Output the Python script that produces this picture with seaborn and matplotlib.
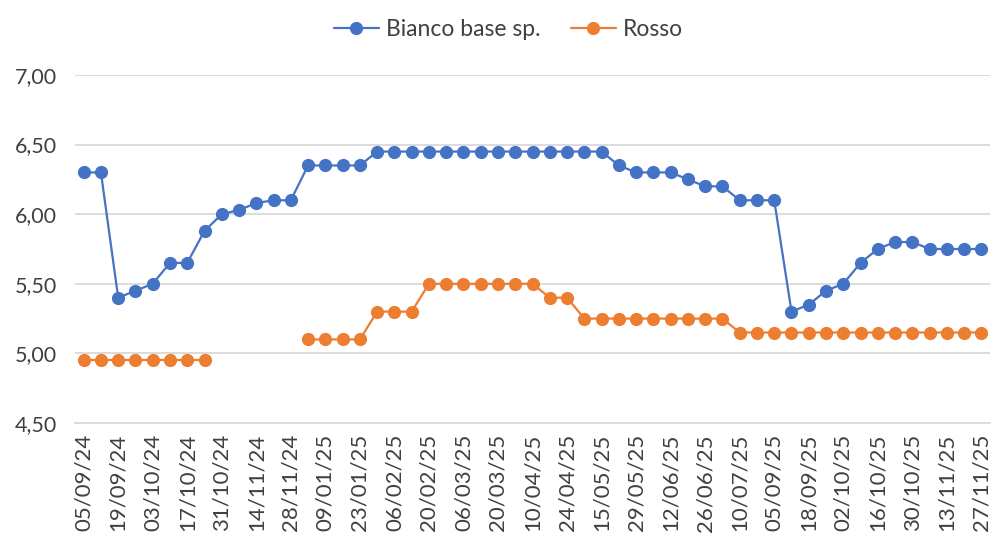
import numpy as np
import pandas as pd
import matplotlib
matplotlib.use("Agg")
import matplotlib.pyplot as plt
import seaborn as sns

dates = ["05/09/24", "12/09/24", "19/09/24", "26/09/24", "03/10/24", "10/10/24",
         "17/10/24", "24/10/24", "31/10/24", "07/11/24", "14/11/24", "21/11/24",
         "28/11/24", "19/12/24", "09/01/25", "16/01/25", "23/01/25", "30/01/25",
         "06/02/25", "13/02/25", "20/02/25", "27/02/25", "06/03/25", "13/03/25",
         "20/03/25", "27/03/25", "10/04/25", "17/04/25", "24/04/25", "08/05/25",
         "15/05/25", "22/05/25", "29/05/25", "05/06/25", "12/06/25", "19/06/25",
         "26/06/25", "03/07/25", "10/07/25", "24/07/25", "05/09/25", "11/09/25",
         "18/09/25", "25/09/25", "02/10/25", "09/10/25", "16/10/25", "23/10/25",
         "30/10/25", "06/11/25", "13/11/25", "20/11/25", "27/11/25"]

bianco = [6.30, 6.30, 5.40, 5.45, 5.50, 5.65, 5.65, 5.88, 6.00, 6.03, 6.08, 6.10,
          6.10, 6.35, 6.35, 6.35, 6.35, 6.45, 6.45, 6.45, 6.45, 6.45, 6.45, 6.45,
          6.45, 6.45, 6.45, 6.45, 6.45, 6.45, 6.45, 6.35, 6.30, 6.30, 6.30, 6.25,
          6.20, 6.20, 6.10, 6.10, 6.10, 5.30, 5.35, 5.45, 5.50, 5.65, 5.75, 5.80,
          5.80, 5.75, 5.75, 5.75, 5.75]

nan = np.nan
rosso = [4.95, 4.95, 4.95, 4.95, 4.95, 4.95, 4.95, 4.95, nan, nan, nan, nan,
         nan, 5.10, 5.10, 5.10, 5.10, 5.30, 5.30, 5.30, 5.50, 5.50, 5.50, 5.50,
         5.50, 5.50, 5.50, 5.40, 5.40, 5.25, 5.25, 5.25, 5.25, 5.25, 5.25, 5.25,
         5.25, 5.25, 5.15, 5.15, 5.15, 5.15, 5.15, 5.15, 5.15, 5.15, 5.15, 5.15,
         5.15, 5.15, 5.15, 5.15, 5.15]

series_names = ["Bianco base sp.", "Rosso"]
colors = ["#4472C4", "#ED7D31"]

# long-form table; segment id breaks line across missing values
rows = []
for name, vals in zip(series_names, [bianco, rosso]):
    seg = 0
    prev_nan = False
    for i, v in enumerate(vals):
        if np.isnan(v):
            prev_nan = True
            continue
        if prev_nan:
            seg += 1
            prev_nan = False
        rows.append({"pos": i, "value": v, "series": name, "seg": f"{name}_{seg}"})
df = pd.DataFrame(rows)

sns.set_theme(style="white")
plt.rcParams["font.family"] = ["Lato", "DejaVu Sans"]

fig = plt.figure(figsize=(9.95, 5.38), dpi=100)
ax = fig.add_axes([0.0754, 0.2138, 0.9196, 0.6468])

sns.lineplot(data=df, x="pos", y="value", hue="series", units="seg",
             estimator=None, palette=dict(zip(series_names, colors)),
             hue_order=series_names, marker="o", markersize=9.5,
             markeredgewidth=0, linewidth=1.6, ax=ax, sort=True)

ax.set_xlim(-0.5, len(dates) - 0.5)
ax.set_ylim(4.5, 7.0)
yt = np.arange(4.5, 7.01, 0.5)
ax.set_yticks(yt)
ax.set_yticklabels([f"{v:.2f}".replace(".", ",") for v in yt], fontsize=15.5, color="#404040")
ax.yaxis.grid(True, color="#D9D9D9", linewidth=1.3)
ax.set_axisbelow(True)

ax.set_xticks(range(0, len(dates), 2))
ax.set_xticklabels(dates[::2], rotation=90, fontsize=16, color="#404040")
ax.set_xticks(np.arange(-0.5, len(dates), 1), minor=True)
ax.tick_params(axis="x", which="major", length=0, pad=8)
ax.tick_params(axis="x", which="minor", length=5, color="#D9D9D9", width=1)
ax.tick_params(axis="y", length=0, pad=13)

for s in ["top", "right", "left"]:
    ax.spines[s].set_visible(False)
ax.spines["bottom"].set_color("#D9D9D9")
ax.spines["bottom"].set_linewidth(1.3)
ax.set_xlabel("")
ax.set_ylabel("")

handles, labels = ax.get_legend_handles_labels()
ax.legend(handles[:2], labels[:2], loc="center", bbox_to_anchor=(0.511, 0.945),
          bbox_transform=fig.transFigure, ncol=2, frameon=False, fontsize=16.5,
          handlelength=2.0, columnspacing=1.3, handletextpad=0.3,
          labelcolor="#404040")

fig.savefig("out.png", dpi=100)
